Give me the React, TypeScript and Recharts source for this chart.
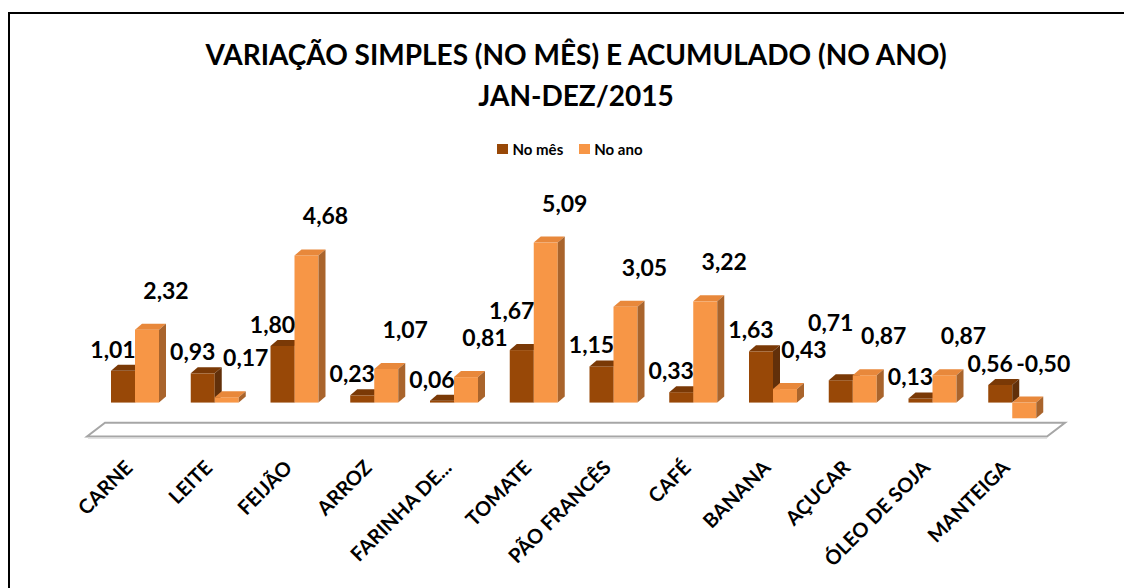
import * as React from 'react';
import { Bar, BarChart, LabelList, Legend, ReferenceArea, XAxis, YAxis } from 'recharts';

const categories = [
  'CARNE',
  'LEITE',
  'FEIJÃO',
  'ARROZ',
  'FARINHA  DE...',
  'TOMATE',
  'PÃO FRANCÊS',
  'CAFÉ',
  'BANANA',
  'AÇUCAR',
  'ÓLEO DE SOJA',
  'MANTEIGA'
];
const noMes = [1.01, 0.93, 1.8, 0.23, 0.06, 1.67, 1.15, 0.33, 1.63, 0.71, 0.13, 0.56];
const noAno = [2.32, 0.17, 4.68, 1.07, 0.81, 5.09, 3.05, 3.22, 0.43, 0.87, 0.87, -0.5];

const data = categories.map((name, i) => ({ name, noMes: noMes[i], noAno: noAno[i] }));

const FONT = 'Lato, "Open Sans", sans-serif';
const DX = 7;
const DY = 6;

const DARK = { front: '#984807', top: '#7a3906', side: '#62300a' };
const LIGHT = { front: '#f79646', top: '#e8883b', side: '#a9642c' };

// label offsets (px) from the bar top
const MES_DX = -10;
const MES_DY = -22;
const ANO_DX = 19;
const ANO_DY = -40;
const LABEL_GAP = 27;

function make3DBar(c: { front: string; top: string; side: string }) {
  return (props: any) => {
    const { x, y, width, height } = props;
    const top = Math.min(y, y + height);
    const bottom = Math.max(y, y + height);
    const r = x + width;
    return (
      <g>
        <rect x={x} y={top} width={width} height={bottom - top} fill={c.front} />
        <polygon
          points={`${x},${top} ${x + DX},${top - DY} ${r + DX},${top - DY} ${r},${top}`}
          fill={c.top}
        />
        <polygon
          points={`${r},${top} ${r + DX},${top - DY} ${r + DX},${bottom - DY} ${r},${bottom}`}
          fill={c.side}
        />
      </g>
    );
  };
}

const fmt = (v: number) => v.toFixed(2).replace('.', ',');

function ValueText({ x, y, value }: { x: number; y: number; value: number }) {
  return (
    <text
      x={x}
      y={y}
      textAnchor="middle"
      dominantBaseline="central"
      fontFamily={FONT}
      fontWeight={700}
      fontSize={23}
      fill="#000"
    >
      {fmt(value)}
    </text>
  );
}

// "No mês" label: sits left of the bar; pushed up when it would hit the
// "No ano" label of the previous category
function MesLabel(props: any) {
  const { x, y, width, height, value, index } = props;
  const top = Math.min(y, y + height);
  const base = Math.max(y, y + height);
  let ly = top + MES_DY;
  if (index > 0 && value) {
    const ppu = Math.abs(height) / Math.abs(value);
    const prevTop = base - Math.max(noAno[index - 1], 0) * ppu;
    const prevY = prevTop + ANO_DY;
    if (Math.abs(ly - prevY) < LABEL_GAP) ly = prevY - LABEL_GAP;
  }
  return <ValueText x={x + width / 2 + MES_DX} y={ly} value={value} />;
}

function AnoLabel(props: any) {
  const { x, y, width, height, value } = props;
  const top = Math.min(y, y + height);
  return <ValueText x={x + width / 2 + ANO_DX} y={top + ANO_DY} value={value} />;
}

function Floor(props: any) {
  const { x, y, width, height } = props;
  const b = y + height;
  return (
    <g>
      <polygon
        points={`${x - 8},${b} ${x + width - 5},${b} ${x + width + 13},${y} ${x + 10},${y}`}
        fill="#fff"
        stroke="#a6a6a6"
        strokeWidth={2}
      />
      <line x1={x - 7} y1={b + 1.5} x2={x + width - 5} y2={b + 1.5} stroke="#d9d9d9" strokeWidth={1.5} />
    </g>
  );
}

function Tick(props: any) {
  const { x, y, payload } = props;
  const ax = x - 1;
  const ay = y + 27;
  return (
    <text
      x={ax}
      y={ay}
      textAnchor="end"
      transform={`rotate(-45 ${ax} ${ay})`}
      fontFamily={FONT}
      fontWeight={700}
      fontSize={20}
      fill="#000"
    >
      {payload.value}
    </text>
  );
}

function LegendContent() {
  const items = [
    { label: 'No mês', color: DARK.front },
    { label: 'No ano', color: LIGHT.front }
  ];
  return (
    <div style={{ display: 'flex', justifyContent: 'center', gap: 16, fontFamily: FONT, fontWeight: 700, fontSize: 15 }}>
      {items.map((it) => (
        <div key={it.label} style={{ display: 'flex', alignItems: 'center', gap: 4 }}>
          <span style={{ width: 11, height: 10, background: it.color, display: 'inline-block' }} />
          <span>{it.label}</span>
        </div>
      ))}
    </div>
  );
}

export default function App() {
  return (
    <div style={{ position: 'relative', width: 1124, height: 580, overflow: 'hidden' }}>
      <div
        style={{
          position: 'absolute',
          left: 0,
          top: 4,
          width: 1200,
          height: 700,
          borderTop: '2px solid #000',
          borderLeft: '2px solid #000'
        }}
      />
      <div
        style={{
          position: 'absolute',
          left: 0,
          width: 1136,
          top: 26,
          textAlign: 'center',
          fontFamily: FONT,
          fontWeight: 700,
          fontSize: 28,
          lineHeight: '41px'
        }}
      >
        VARIAÇÃO SIMPLES (NO MÊS) E ACUMULADO (NO ANO)
        <br />
        JAN-DEZ/2015
      </div>
      <BarChart
        width={1124}
        height={580}
        data={data}
        margin={{ top: 206, right: 80, bottom: 124, left: 87 }}
        barGap={0}
        style={{ position: 'absolute', left: 0, top: 0 }}
      >
        <XAxis dataKey="name" axisLine={false} tickLine={false} interval={0} height={30} tick={<Tick />} />
        <YAxis hide domain={[-1, 6]} />
        <Legend
          verticalAlign="middle"
          align="center"
          content={<LegendContent />}
          wrapperStyle={{ top: 132, left: 0, width: 1124 }}
        />
        <ReferenceArea y1={-0.64} y2={-1.08} ifOverflow="visible" shape={<Floor />} />
        <Bar dataKey="noMes" name="No mês" barSize={24} shape={make3DBar(DARK)} isAnimationActive={false}>
          <LabelList dataKey="noMes" content={<MesLabel />} />
        </Bar>
        <Bar dataKey="noAno" name="No ano" barSize={24} shape={make3DBar(LIGHT)} isAnimationActive={false}>
          <LabelList dataKey="noAno" content={<AnoLabel />} />
        </Bar>
      </BarChart>
    </div>
  );
}
